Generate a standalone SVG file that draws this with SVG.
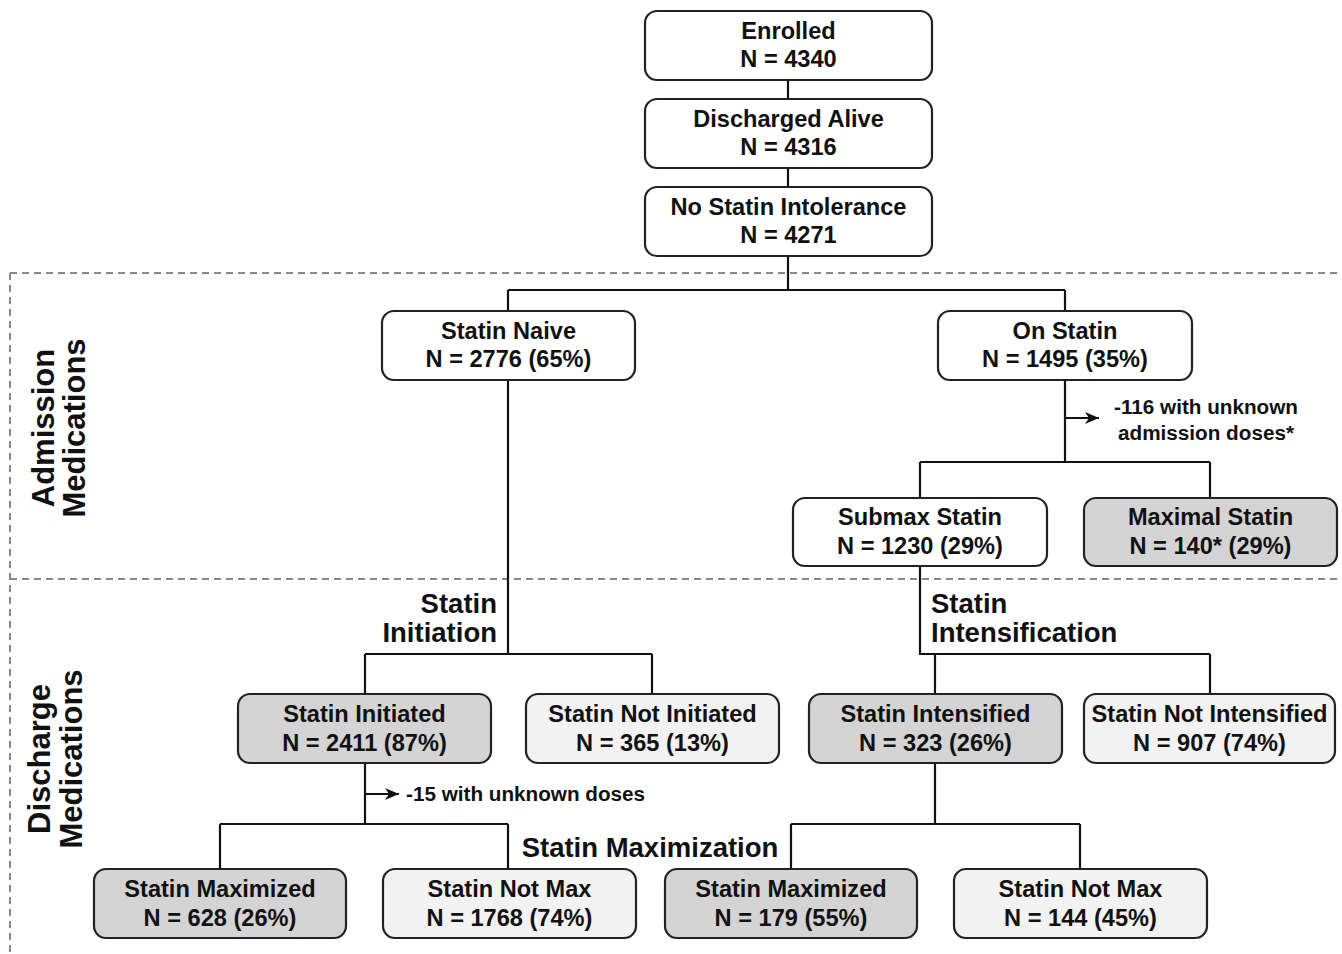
<svg xmlns="http://www.w3.org/2000/svg" width="1342" height="954" viewBox="0 0 1342 954">
<defs>
<marker id="arr" markerWidth="14" markerHeight="12" refX="14" refY="6" orient="auto" markerUnits="userSpaceOnUse" viewBox="0 0 14 12">
<path d="M0,0 L14,6 L0,12 L4,6 Z" fill="#111"/>
</marker>
<style>
.box{stroke:#222;stroke-width:2.2;}
.w{fill:#ffffff;}
.g{fill:#d4d4d4;}
.l{fill:#f2f2f2;}
.t{font-family:"Liberation Sans",Arial,sans-serif;font-weight:bold;font-size:23.6px;fill:#111;text-anchor:middle;}
.n{font-family:"Liberation Sans",Arial,sans-serif;font-weight:bold;font-size:20.7px;fill:#111;}
.h{font-family:"Liberation Sans",Arial,sans-serif;font-weight:bold;font-size:27.5px;fill:#111;}
.s{font-family:"Liberation Sans",Arial,sans-serif;font-weight:bold;font-size:31px;fill:#111;text-anchor:middle;}
.c{stroke:#111;stroke-width:2.2;fill:none;}
.d{stroke:#888;stroke-width:2;stroke-dasharray:7 5;fill:none;}
</style>
</defs>
<rect width="1342" height="954" fill="#ffffff"/>

<g id="sections">
<path class="d" d="M10,273 H1342 M10,579 H1342 M10,273 V954"/>
<text class="s" transform="translate(54,428) rotate(-90)">Admission</text>
<text class="s" transform="translate(85,428) rotate(-90)">Medications</text>
<text class="s" transform="translate(50,759) rotate(-90)">Discharge</text>
<text class="s" transform="translate(82,759) rotate(-90)">Medications</text>
</g>

<g id="connectors">
<path class="c" d="M788,80 V99 M788,168 V187 M788,256 V290 M508,290 H1065 M508,290 V311 M1065,290 V311"/>
<path class="c" d="M1065,380 V462 M920,462 H1210 M920,462 V498 M1210,462 V498"/>
<path class="c" d="M1065,418 H1099" marker-end="url(#arr)"/>
<path class="c" d="M508,380 V654 M365,654 H652 M365,654 V694 M652,654 V694"/>
<path class="c" d="M920,566 V654 H1210 M935,654 V694 M1210,654 V694"/>
<path class="c" d="M365,763 V824 M220,824 H508 M220,824 V869 M508,824 V869"/>
<path class="c" d="M365,794 H399" marker-end="url(#arr)"/>
<path class="c" d="M935,763 V824 M791,824 H1080 M791,824 V869 M1080,824 V869"/>
</g>

<g id="labels">
<text class="n" x="1206" y="414" text-anchor="middle">-116 with unknown</text>
<text class="n" x="1206" y="440" text-anchor="middle">admission doses*</text>
<text class="n" x="406" y="801">-15 with unknown doses</text>
<text class="h" x="497" y="613" text-anchor="end">Statin</text>
<text class="h" x="497" y="642" text-anchor="end">Initiation</text>
<text class="h" x="931" y="613">Statin</text>
<text class="h" x="931" y="642">Intensification</text>
<text class="h" x="650" y="857" text-anchor="middle">Statin Maximization</text>
</g>

<g id="enrolled">
<rect class="box w" x="645" y="11" width="287" height="69" rx="12"/>
<text class="t" x="788.5" y="39">Enrolled</text>
<text class="t" x="788.5" y="67">N = 4340</text>
</g>
<g id="discharged">
<rect class="box w" x="645" y="99" width="287" height="69" rx="12"/>
<text class="t" x="788.5" y="127">Discharged Alive</text>
<text class="t" x="788.5" y="155">N = 4316</text>
</g>
<g id="nointol">
<rect class="box w" x="645" y="187" width="287" height="69" rx="12"/>
<text class="t" x="788.5" y="215">No Statin Intolerance</text>
<text class="t" x="788.5" y="243">N = 4271</text>
</g>
<g id="naive">
<rect class="box w" x="382" y="311" width="253" height="69" rx="12"/>
<text class="t" x="508.5" y="339">Statin Naive</text>
<text class="t" x="508.5" y="367">N = 2776 (65%)</text>
</g>
<g id="onstatin">
<rect class="box w" x="938" y="311" width="254" height="69" rx="12"/>
<text class="t" x="1065" y="339">On Statin</text>
<text class="t" x="1065" y="367">N = 1495 (35%)</text>
</g>
<g id="submax">
<rect class="box w" x="793" y="498" width="254" height="68" rx="12"/>
<text class="t" x="920" y="525">Submax Statin</text>
<text class="t" x="920" y="554">N = 1230 (29%)</text>
</g>
<g id="maximal">
<rect class="box g" x="1084" y="498" width="253" height="68" rx="12"/>
<text class="t" x="1210.5" y="525">Maximal Statin</text>
<text class="t" x="1210.5" y="554">N = 140* (29%)</text>
</g>
<g id="initiated">
<rect class="box g" x="238" y="694" width="253" height="69" rx="12"/>
<text class="t" x="364.5" y="722">Statin Initiated</text>
<text class="t" x="364.5" y="751">N = 2411 (87%)</text>
</g>
<g id="notinitiated">
<rect class="box l" x="526" y="694" width="253" height="69" rx="12"/>
<text class="t" x="652.5" y="722">Statin Not Initiated</text>
<text class="t" x="652.5" y="751">N = 365 (13%)</text>
</g>
<g id="intensified">
<rect class="box g" x="809" y="694" width="253" height="69" rx="12"/>
<text class="t" x="935.5" y="722">Statin Intensified</text>
<text class="t" x="935.5" y="751">N = 323 (26%)</text>
</g>
<g id="notintensified">
<rect class="box l" x="1084" y="694" width="251" height="69" rx="12"/>
<text class="t" x="1209.5" y="722">Statin Not Intensified</text>
<text class="t" x="1209.5" y="751">N = 907 (74%)</text>
</g>
<g id="max1">
<rect class="box g" x="94" y="869" width="252" height="69" rx="12"/>
<text class="t" x="220" y="897">Statin Maximized</text>
<text class="t" x="220" y="926">N = 628 (26%)</text>
</g>
<g id="notmax1">
<rect class="box l" x="383" y="869" width="253" height="69" rx="12"/>
<text class="t" x="509.5" y="897">Statin Not Max</text>
<text class="t" x="509.5" y="926">N = 1768 (74%)</text>
</g>
<g id="max2">
<rect class="box g" x="665" y="869" width="252" height="69" rx="12"/>
<text class="t" x="791" y="897">Statin Maximized</text>
<text class="t" x="791" y="926">N = 179 (55%)</text>
</g>
<g id="notmax2">
<rect class="box l" x="954" y="869" width="253" height="69" rx="12"/>
<text class="t" x="1080.5" y="897">Statin Not Max</text>
<text class="t" x="1080.5" y="926">N = 144 (45%)</text>
</g>
</svg>
